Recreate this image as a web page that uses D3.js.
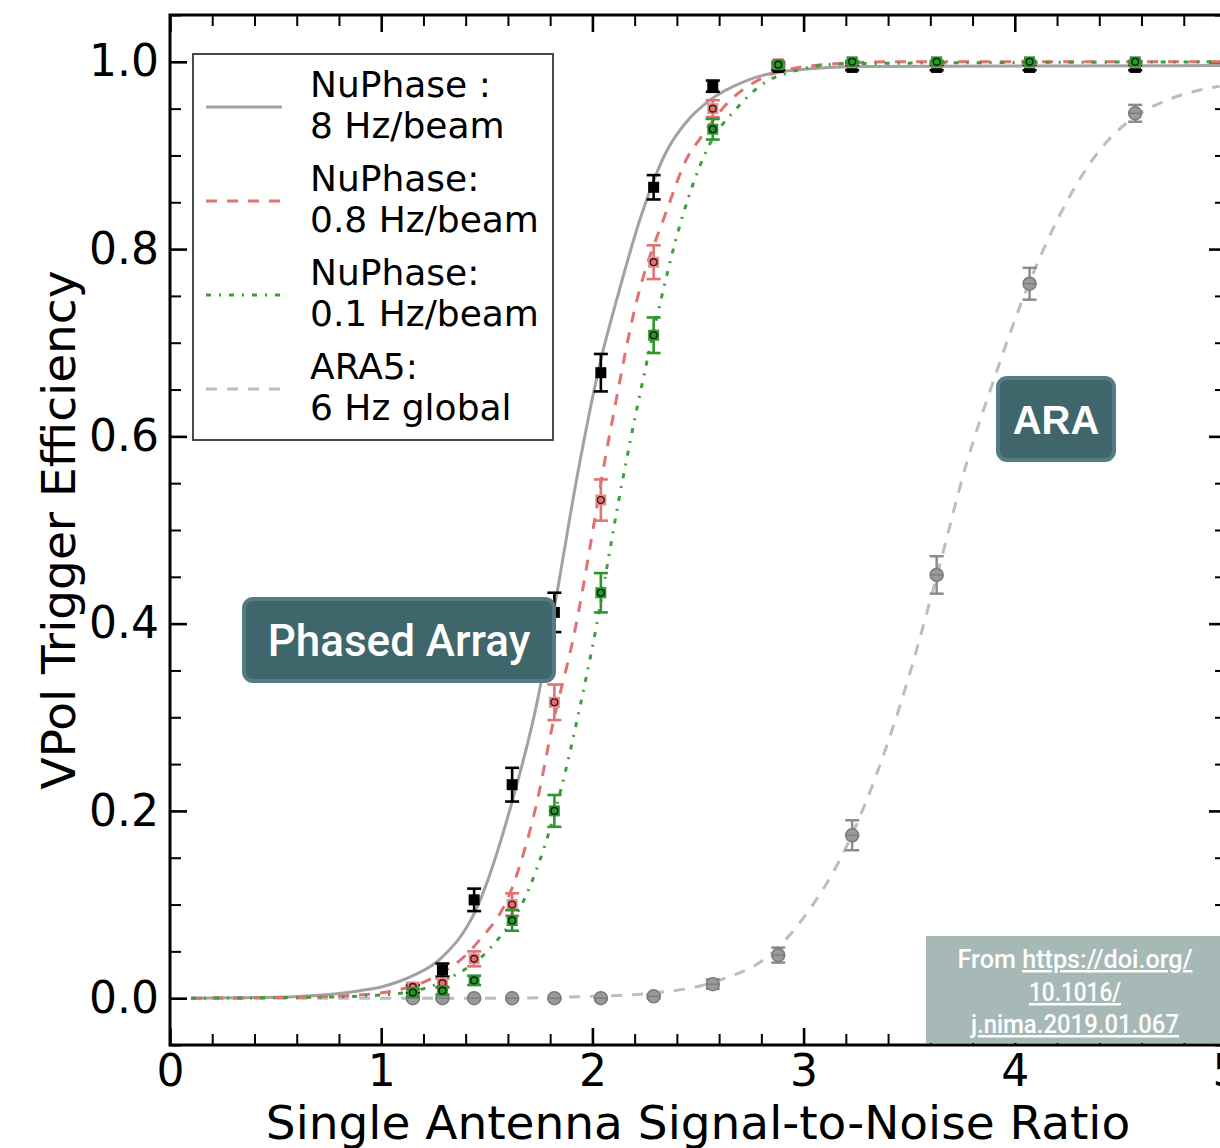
<!DOCTYPE html>
<html>
<head>
  <meta charset="utf-8">
  <script src="https://d3js.org/d3.v7.min.js"></script>
  <style>
    body { margin: 0; background: #fff; }
    svg { display: block; }
    .axis text { font-family: "DejaVu Sans", sans-serif; font-size: 44px; fill: #000; }
    .axis line { stroke: #000; }
  </style>
</head>
<body>
<script>
// ---- data ----
var snr = [1.15, 1.29, 1.44, 1.62, 1.82, 2.04, 2.29, 2.57, 2.88, 3.23, 3.63, 4.07, 4.57];

var eff8Hz  = [0.010, 0.030, 0.105, 0.228, 0.412, 0.668, 0.866, 0.974, 0.994, 0.994, 0.994, 0.994, 0.994];
var err8Hz  = [0.004, 0.007, 0.012, 0.018, 0.021, 0.020, 0.013, 0.006, 0.003, 0.003, 0.003, 0.003, 0.003];
var eff08Hz = [0.012, 0.016, 0.042, 0.100, 0.316, 0.532, 0.786, 0.950, 0.998, 0.999, 0.999, 0.999, 0.999];
var err08Hz = [0.004, 0.005, 0.008, 0.012, 0.019, 0.022, 0.018, 0.009, 0.002, 0.001, 0.001, 0.001, 0.001];
var eff01Hz = [0.006, 0.008, 0.019, 0.083, 0.200, 0.433, 0.708, 0.928, 0.997, 1.000, 1.000, 1.000, 1.000];
var err01Hz = [0.004, 0.004, 0.005, 0.011, 0.017, 0.021, 0.019, 0.011, 0.003, 0.001, 0.001, 0.001, 0.001];
var effARA  = [0.000, 0.000, 0.000, 0.000, 0.000, 0.000, 0.002, 0.015, 0.046, 0.174, 0.452, 0.763, 0.945];
var errARA  = [0.001, 0.001, 0.001, 0.001, 0.001, 0.001, 0.002, 0.005, 0.008, 0.016, 0.020, 0.017, 0.009];

// fitted curves, points [snr, efficiency]
var fit8Hz = [[0.1, 0], [0.5, 0.001], [0.9, 0.008], [1.0, 0.012], [1.15, 0.024], [1.28, 0.042], [1.45, 0.095],
  [1.62, 0.21], [1.74, 0.318], [1.83, 0.43], [1.93, 0.56], [2.04, 0.682], [2.12, 0.75], [2.23, 0.835],
  [2.35, 0.904], [2.45, 0.937], [2.55, 0.958], [2.73, 0.98], [2.95, 0.991], [3.3, 0.995], [5, 0.996]];
var fit08Hz = [[0.1, 0], [0.6, 0.001], [0.93, 0.004], [1.06, 0.008], [1.23, 0.02], [1.45, 0.058], [1.62, 0.118],
  [1.74, 0.212], [1.81, 0.29], [1.91, 0.385], [2.08, 0.6], [2.21, 0.745], [2.35, 0.84], [2.45, 0.898],
  [2.51, 0.918], [2.64, 0.956], [2.79, 0.981], [3.05, 0.996], [3.4, 1.0], [5, 1.0]];
var fit01Hz = [[0.1, 0], [0.7, 0.001], [1.04, 0.004], [1.31, 0.02], [1.51, 0.052], [1.7, 0.117], [1.85, 0.222],
  [1.94, 0.31], [2.0, 0.375], [2.14, 0.55], [2.29, 0.712], [2.42, 0.83], [2.54, 0.905], [2.69, 0.952],
  [2.87, 0.984], [3.2, 0.998], [5, 1.0]];
var fitARA = [[0.1, 0], [1.5, 0], [2.0, 0.002], [2.26, 0.005], [2.57, 0.017], [2.86, 0.05], [2.98, 0.08],
  [3.23, 0.175], [3.46, 0.315], [3.63, 0.45], [3.77, 0.57], [3.9, 0.66], [4.07, 0.765], [4.4, 0.905],
  [4.56, 0.94], [4.72, 0.959], [4.97, 0.974]];

var legendLabels = [["NuPhase :", "8 Hz/beam"], ["NuPhase:", "0.8 Hz/beam"], ["NuPhase:", "0.1 Hz/beam"], ["ARA5:", "6 Hz global"]];
var xTicks = [0, 1, 2, 3, 4, 5];
var yTicks = [0, 0.2, 0.4, 0.6, 0.8, 1.0];

// ---- layout ----
var W = 1220, H = 1148;
var plotL = 170, plotR = 1226, plotT = 15, plotB = 1045;

var svg = d3.select("body").append("svg").attr("width", W).attr("height", H);

var x = d3.scaleLinear().domain([0, 5]).range([plotL, plotR]);
var y = d3.scaleLinear().domain([-0.05, 1.05]).range([plotB, plotT]);

svg.append("defs").append("clipPath").attr("id", "plotclip")
  .append("rect").attr("x", plotL).attr("y", plotT).attr("width", plotR - plotL).attr("height", plotB - plotT);

// minor ticks
var xMinor = d3.range(0, 5.001, 0.2).filter(function(d) { return Math.abs(d - Math.round(d)) > 1e-6; });
var yMinor = d3.range(-0.05, 1.051, 0.05).filter(function(d) { return Math.abs(d * 5 - Math.round(d * 5)) > 1e-6; });

function styleAxis(g, major) {
  g.select(".domain").remove();
  g.selectAll("line").attr("stroke-width", major ? 2.6 : 2);
}

// bottom
svg.append("g").attr("class", "axis").attr("transform", "translate(0," + plotB + ")")
  .call(d3.axisBottom(x).tickValues(xTicks).tickSize(-17).tickPadding(10).tickFormat(d3.format("d")))
  .call(styleAxis, true);
svg.append("g").attr("class", "axis").attr("transform", "translate(0," + plotB + ")")
  .call(d3.axisBottom(x).tickValues(xMinor).tickSize(-11).tickFormat(""))
  .call(styleAxis, false);
// top
svg.append("g").attr("class", "axis").attr("transform", "translate(0," + plotT + ")")
  .call(d3.axisTop(x).tickValues(xTicks).tickSize(-17).tickFormat(""))
  .call(styleAxis, true);
svg.append("g").attr("class", "axis").attr("transform", "translate(0," + plotT + ")")
  .call(d3.axisTop(x).tickValues(xMinor).tickSize(-11).tickFormat(""))
  .call(styleAxis, false);
// left
svg.append("g").attr("class", "axis").attr("transform", "translate(" + plotL + ",0)")
  .call(d3.axisLeft(y).tickValues(yTicks).tickSize(-17).tickPadding(11).tickFormat(d3.format(".1f")))
  .call(styleAxis, true);
svg.append("g").attr("class", "axis").attr("transform", "translate(" + plotL + ",0)")
  .call(d3.axisLeft(y).tickValues(yMinor).tickSize(-11).tickFormat(""))
  .call(styleAxis, false);
// right
svg.append("g").attr("class", "axis").attr("transform", "translate(" + plotR + ",0)")
  .call(d3.axisRight(y).tickValues(yTicks).tickSize(-17).tickFormat(""))
  .call(styleAxis, true);
svg.append("g").attr("class", "axis").attr("transform", "translate(" + plotR + ",0)")
  .call(d3.axisRight(y).tickValues(yMinor).tickSize(-11).tickFormat(""))
  .call(styleAxis, false);

// frame
svg.append("rect").attr("x", plotL).attr("y", plotT).attr("width", plotR - plotL).attr("height", plotB - plotT)
  .attr("fill", "none").attr("stroke", "#000").attr("stroke-width", 3);

// axis titles
svg.append("text").attr("x", (plotL + plotR) / 2).attr("y", 1139).attr("text-anchor", "middle")
  .style("font-family", "'DejaVu Sans', sans-serif").style("font-size", "47px")
  .text("Single Antenna Signal-to-Noise Ratio");
svg.append("text").attr("transform", "translate(75," + ((plotT + plotB) / 2) + ") rotate(-90)")
  .attr("text-anchor", "middle")
  .style("font-family", "'DejaVu Sans', sans-serif").style("font-size", "47px")
  .text("VPol Trigger Efficiency");

// ---- curves ----
var line = d3.line().x(function(d) { return x(d[0]); }).y(function(d) { return y(d[1]); }).curve(d3.curveMonotoneX);
var plot = svg.append("g").attr("clip-path", "url(#plotclip)");

var styles = [
  {fit: fit8Hz, color: "#a2a2a2", dash: null},
  {fit: fit08Hz, color: "#e07272", dash: "11,10"},
  {fit: fit01Hz, color: "#3aa03a", dash: "5,8,2,8"},
  {fit: fitARA, color: "#bdbdbd", dash: "11,10"}
];

// draw ARA first, then the phased array curves
[3, 0, 1, 2].forEach(function(i) {
  plot.append("path").datum(styles[i].fit)
    .attr("d", line).attr("fill", "none")
    .attr("stroke", styles[i].color).attr("stroke-width", 3)
    .attr("stroke-dasharray", styles[i].dash);
});

// ---- points with error bars ----
function errorBars(vals, errs, color, width) {
  var g = plot.append("g");
  snr.forEach(function(s, i) {
    var cx = x(s), y0 = y(vals[i] - errs[i]), y1 = y(vals[i] + errs[i]);
    g.append("line").attr("x1", cx).attr("x2", cx).attr("y1", y0).attr("y2", y1)
      .attr("stroke", color).attr("stroke-width", width);
    [y0, y1].forEach(function(yy) {
      g.append("line").attr("x1", cx - 7).attr("x2", cx + 7).attr("y1", yy).attr("y2", yy)
        .attr("stroke", color).attr("stroke-width", width);
    });
  });
  return g;
}

// ARA: gray circles
var gA = errorBars(effARA, errARA, "#8c8c8c", 2.5);
snr.forEach(function(s, i) {
  gA.append("circle").attr("cx", x(s)).attr("cy", y(effARA[i])).attr("r", 6.5)
    .attr("fill", "#9a9a9a").attr("stroke", "#7a7a7a").attr("stroke-width", 1.5);
  gA.append("line").attr("x1", x(s) - 6).attr("x2", x(s) + 6).attr("y1", y(effARA[i])).attr("y2", y(effARA[i]))
    .attr("stroke", "#777").attr("stroke-width", 1.2);
});

function squares(vals, errs, barColor, fill, ring, ringFill) {
  var g = errorBars(vals, errs, barColor, 2.6);
  snr.forEach(function(s, i) {
    g.append("rect").attr("x", x(s) - 5.5).attr("y", y(vals[i]) - 5.5).attr("width", 11).attr("height", 11)
      .attr("fill", fill);
    g.append("circle").attr("cx", x(s)).attr("cy", y(vals[i])).attr("r", 3.4)
      .attr("fill", ringFill).attr("stroke", ring).attr("stroke-width", 1.4);
  });
}
squares(eff8Hz, err8Hz, "#000", "#000", "#000", "#000");
squares(eff08Hz, err08Hz, "#e07272", "#e88a8a", "#3a1a1a", "#e07272");
squares(eff01Hz, err01Hz, "#2e962e", "#2e962e", "#0a200a", "none");

// ---- legend ----
var lg = svg.append("g");
lg.append("rect").attr("x", 193).attr("y", 54).attr("width", 360).attr("height", 386)
  .attr("fill", "#fff").attr("stroke", "#4a4a4a").attr("stroke-width", 2);
legendLabels.forEach(function(lab, i) {
  var yy = 107 + i * 94;
  lg.append("line").attr("x1", 206).attr("x2", 282).attr("y1", yy).attr("y2", yy)
    .attr("stroke", styles[i].color).attr("stroke-width", 3)
    .attr("stroke-dasharray", styles[i].dash);
  lab.forEach(function(t, j) {
    lg.append("text").attr("x", 310).attr("y", 97 + i * 94 + j * 41)
      .style("font-family", "'DejaVu Sans', sans-serif").style("font-size", "36px")
      .text(t);
  });
});

// ---- annotation boxes ----
function tag(x0, y0, w, h, label, font, size, weight, ty) {
  svg.append("rect").attr("x", x0).attr("y", y0).attr("width", w).attr("height", h).attr("rx", 9)
    .attr("fill", "#3f666b").attr("stroke", "#557c80").attr("stroke-width", 4);
  svg.append("text").attr("x", x0 + w / 2).attr("y", ty).attr("text-anchor", "middle")
    .style("font-family", font).style("font-weight", weight).style("font-size", size + "px")
    .attr("fill", "#fff").text(label);
}
tag(244, 599, 310, 82, "Phased Array", "Roboto, sans-serif", 44, 500, 656);
tag(998, 378, 116, 82, "ARA", "'Liberation Sans', Arial, sans-serif", 40, "bold", 434);

// ---- source box ----
svg.append("rect").attr("x", 926).attr("y", 936).attr("width", 300).attr("height", 107).attr("fill", "#a6b9b6");
var src = [["From ", "https://doi.org/", 968, 235], ["", "10.1016/", 1001, 92], ["", "j.nima.2019.01.067", 1033, 208]];
src.forEach(function(r) {
  var t = svg.append("text").attr("x", 1075).attr("y", r[2]).attr("text-anchor", "middle")
    .attr("textLength", r[3]).attr("lengthAdjust", "spacingAndGlyphs")
    .style("font-family", "Roboto, sans-serif").style("font-size", "25px").style("font-weight", 500)
    .attr("fill", "#fff");
  if (r[0]) t.append("tspan").text(r[0]);
  t.append("tspan").style("text-decoration", "underline").text(r[1]);
});
</script>
</body>
</html>
